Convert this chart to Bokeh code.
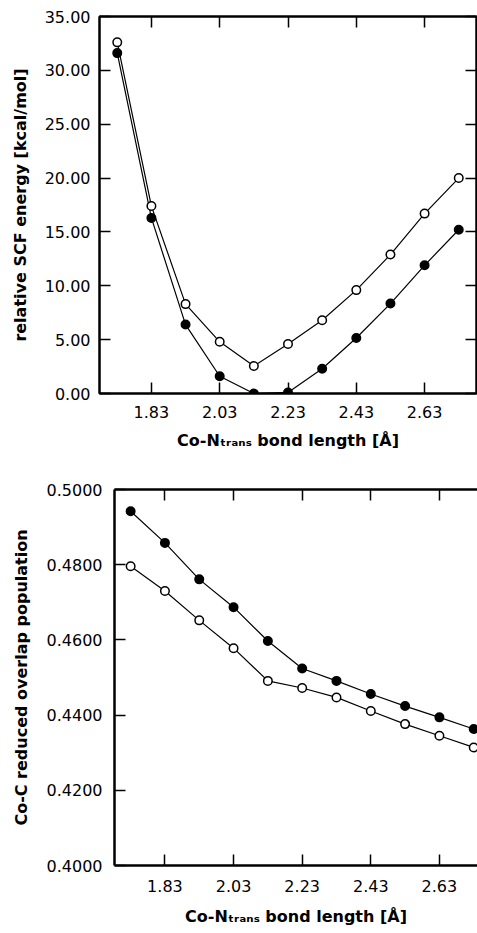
from bokeh.plotting import figure
from bokeh.models import Range1d, LinearAxis, FixedTicker, PrintfTickFormatter
from bokeh.embed import file_html
from bokeh.resources import INLINE

# ---- data ----
bond_length = [1.73, 1.83, 1.93, 2.03, 2.13, 2.23, 2.33, 2.43, 2.53, 2.63, 2.73]
x_ticks = [1.83, 2.03, 2.23, 2.43, 2.63]

energy_open = [32.6, 17.4, 8.3, 4.8, 2.55, 4.6, 6.8, 9.6, 12.9, 16.7, 20.0]
energy_filled = [31.6, 16.3, 6.4, 1.6, 0.0, 0.1, 2.3, 5.15, 8.35, 11.9, 15.2]
energy_ticks = [0, 5, 10, 15, 20, 25, 30, 35]

overlap_filled = [0.4942, 0.4858, 0.4761, 0.4687, 0.4597, 0.4524, 0.4491,
                  0.4456, 0.4424, 0.4394, 0.4363]
overlap_open = [0.4796, 0.4730, 0.4652, 0.4578, 0.4491, 0.4472, 0.4447,
                0.4411, 0.4376, 0.4345, 0.4314]
overlap_ticks = [0.40, 0.42, 0.44, 0.46, 0.48, 0.50]

TICK_FONT = "DejaVu Sans"
LABEL_FONT = "DejaVu Sans"
X_LABEL = "Co-N\u209c\u1d63\u2090\u2099\u209b bond length [\u00c5]"


def style_axis(ax, ticks, fmt, line_w, show_labels=True):
    ax.ticker = FixedTicker(ticks=ticks)
    ax.formatter = PrintfTickFormatter(format=fmt)
    ax.major_tick_in = 11
    ax.major_tick_out = 0
    ax.minor_tick_line_color = None
    ax.major_tick_line_width = 1.5
    ax.axis_line_width = line_w
    ax.axis_line_color = "black"
    ax.major_tick_line_color = "black"
    if show_labels:
        ax.major_label_text_font = TICK_FONT
        ax.major_label_text_font_size = "16px"
        ax.major_label_text_color = "black"
    else:
        ax.major_label_text_font_size = "0px"
        ax.major_label_text_color = None
        ax.major_label_standoff = 0


def style_label(ax, text, size="16px"):
    ax.axis_label = text
    ax.axis_label_text_font = LABEL_FONT
    ax.axis_label_text_font_size = size
    ax.axis_label_text_font_style = "bold"
    ax.axis_label_text_color = "black"


# ---- top chart: relative SCF energy ----
p1 = figure(width=477, height=452, output_backend="svg", toolbar_location=None,
            x_range=Range1d(1.678, 2.782), y_range=Range1d(0, 35),
            min_border_left=99, min_border_right=1, min_border_top=16,
            min_border_bottom=59)
p1.grid.visible = False
p1.outline_line_color = "black"
p1.outline_line_width = 2
p1.background_fill_color = "white"
p1.border_fill_color = "white"

style_axis(p1.xaxis[0], x_ticks, "%.2f", 2)
p1.xaxis[0].major_label_standoff = 12
style_label(p1.xaxis[0], X_LABEL)
p1.xaxis[0].axis_label_standoff = 10

style_axis(p1.yaxis[0], energy_ticks, "%.2f", 2)
p1.yaxis[0].major_label_standoff = 9
style_label(p1.yaxis[0], "relative SCF energy [kcal/mol]")
p1.yaxis[0].axis_label_standoff = 12

top1 = LinearAxis()
style_axis(top1, x_ticks, "%.2f", 2, show_labels=False)
p1.add_layout(top1, "above")
right1 = LinearAxis()
style_axis(right1, energy_ticks, "%.2f", 2, show_labels=False)
p1.add_layout(right1, "right")

p1.line(bond_length, energy_open, line_color="black", line_width=1.2)
p1.line(bond_length, energy_filled, line_color="black", line_width=1.2)
p1.scatter(bond_length, energy_open, marker="circle", size=8.5,
           fill_color="white", line_color="black", line_width=1.5)
p1.scatter(bond_length, energy_filled, marker="circle", size=8.5,
           fill_color="black", line_color="black", line_width=1.5)

# ---- bottom chart: Co-C reduced overlap population ----
p2 = figure(width=477, height=479, output_backend="svg", toolbar_location=None,
            x_range=Range1d(1.683, 2.741), y_range=Range1d(0.40, 0.50),
            min_border_left=114, min_border_right=0, min_border_top=37,
            min_border_bottom=66)
p2.grid.visible = False
p2.outline_line_color = None
p2.background_fill_color = "white"
p2.border_fill_color = "white"

style_axis(p2.xaxis[0], x_ticks, "%.2f", 2.5)
p2.xaxis[0].major_label_standoff = 14
style_label(p2.xaxis[0], X_LABEL)
p2.xaxis[0].axis_label_standoff = 12

style_axis(p2.yaxis[0], overlap_ticks, "%.4f", 2.5)
p2.yaxis[0].major_label_standoff = 12
style_label(p2.yaxis[0], "Co-C reduced overlap population")
p2.yaxis[0].axis_label_standoff = 13

top2 = LinearAxis()
style_axis(top2, x_ticks, "%.2f", 2.5, show_labels=False)
p2.add_layout(top2, "above")

p2.line(bond_length, overlap_filled, line_color="black", line_width=1.2)
p2.line(bond_length, overlap_open, line_color="black", line_width=1.2)
p2.scatter(bond_length, overlap_filled, marker="circle", size=8.5,
           fill_color="black", line_color="black", line_width=1.5)
p2.scatter(bond_length, overlap_open, marker="circle", size=8.5,
           fill_color="white", line_color="black", line_width=1.5)

open("out.html", "w").write(file_html([p1, p2], INLINE))
